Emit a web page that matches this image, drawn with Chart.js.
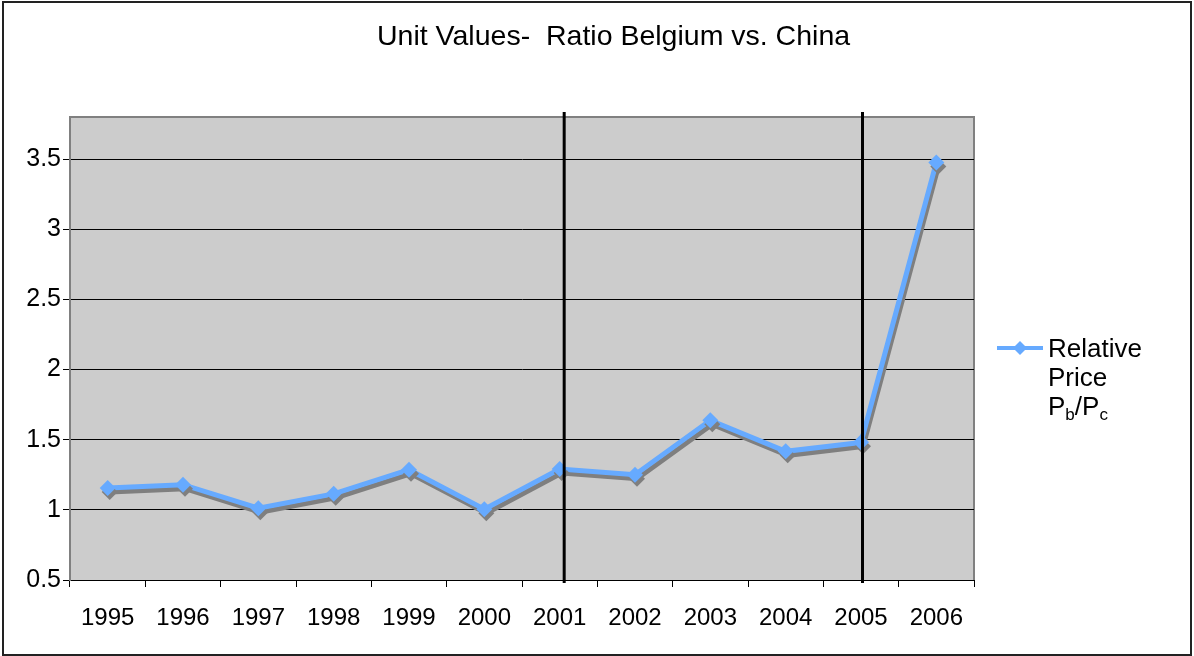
<!DOCTYPE html>
<html>
<head>
<meta charset="utf-8">
<script src="https://cdn.jsdelivr.net/npm/chart.js@4.4.0/dist/chart.umd.min.js"></script>
<style>
  html, body { margin: 0; padding: 0; background: #fff; }
  #wrap { position: relative; width: 1194px; height: 656px; font-family: "Liberation Sans", Arial, sans-serif; }
  #frame { position: absolute; left: 2px; top: 1px; width: 1186px; height: 651px; border: 2px solid #222; box-sizing: content-box; pointer-events: none; }
  canvas { position: absolute; left: 0; top: 0; }
  #title { position: absolute; left: 377px; top: 19px; font-size: 28.5px; line-height: 1.149; color: #000; white-space: nowrap; }
  #legend { position: absolute; left: 1048px; top: 334px; font-size: 26px; line-height: 29px; color: #000; }
  #legend sub { font-size: 17px; vertical-align: -5px; line-height: 0; }
</style>
</head>
<body>
<div id="wrap">
  <canvas id="c" width="1194" height="656"></canvas>
  <div id="frame"></div>
  <div id="title">Unit Values-&nbsp; Ratio Belgium vs. China</div>
  <div id="legend">Relative<br>Price<br>P<sub>b</sub>/P<sub>c</sub></div>
</div>
<script>
const years = ['1995','1996','1997','1998','1999','2000','2001','2002','2003','2004','2005','2006'];
const relativePrice = [1.155, 1.179, 1.012, 1.114, 1.286, 1.005, 1.291, 1.25, 1.638, 1.417, 1.481, 3.476];
const yTicks = [0.5, 1, 1.5, 2, 2.5, 3, 3.5];
const yMin = 0.5, yMax = 3.8;
const seriesName = 'Relative Price Pb/Pc';
const markerLines = [6.06, 10.02]; // positions (category index) of the vertical rules near 2001 and 2005

const LINE_COLOR = '#66aaff';
const SHADOW_COLOR = '#7f7f7f';

const plotBg = {
  id: 'plotBg',
  beforeDraw(chart) {
    const {ctx, chartArea: a} = chart;
    ctx.save();
    ctx.fillStyle = '#cccccc';
    ctx.fillRect(a.left, a.top, a.right - a.left, a.bottom - a.top);
    ctx.strokeStyle = '#808080';
    ctx.lineWidth = 2;
    ctx.beginPath();
    ctx.moveTo(a.left, a.bottom);
    ctx.lineTo(a.left, a.top);
    ctx.lineTo(a.right, a.top);
    ctx.lineTo(a.right, a.bottom);
    ctx.stroke();
    ctx.restore();
  }
};

const shadow = {
  id: 'shadow',
  beforeDatasetDraw(chart) {
    const ctx = chart.ctx;
    ctx.save();
    ctx.shadowColor = SHADOW_COLOR;
    ctx.shadowOffsetX = 2;
    ctx.shadowOffsetY = 4;
    ctx.shadowBlur = 0;
  },
  afterDatasetDraw(chart) {
    chart.ctx.restore();
  }
};

const vRules = {
  id: 'vRules',
  afterDatasetsDraw(chart) {
    const {ctx, chartArea: a, scales} = chart;
    ctx.save();
    ctx.strokeStyle = '#000';
    ctx.lineWidth = 3;
    markerLines.forEach(v => {
      const x = scales.x.getPixelForValue(v);
      ctx.beginPath();
      ctx.moveTo(x, a.top - 5);
      ctx.lineTo(x, a.bottom + 3);
      ctx.stroke();
    });
    ctx.restore();
  }
};

const legendSample = {
  id: 'legendSample',
  afterDraw(chart) {
    const ctx = chart.ctx;
    const y = 348, x0 = 997, x1 = 1043, xm = (x0 + x1) / 2;
    ctx.save();
    ctx.strokeStyle = LINE_COLOR;
    ctx.lineWidth = 4;
    ctx.beginPath(); ctx.moveTo(x0, y); ctx.lineTo(x1, y); ctx.stroke();
    ctx.fillStyle = LINE_COLOR;
    ctx.beginPath();
    ctx.moveTo(xm, y - 7); ctx.lineTo(xm + 7, y); ctx.lineTo(xm, y + 7); ctx.lineTo(xm - 7, y);
    ctx.closePath(); ctx.fill();
    ctx.restore();
  }
};

new Chart(document.getElementById('c'), {
  type: 'line',
  data: {
    labels: years,
    datasets: [{
      label: seriesName,
      data: relativePrice,
      borderColor: LINE_COLOR,
      backgroundColor: LINE_COLOR,
      borderWidth: 5,
      pointStyle: 'rectRot',
      pointRadius: 8,
      pointBorderWidth: 0,
      tension: 0,
      fill: false
    }]
  },
  options: {
    responsive: false,
    animation: false,
    events: [],
    layout: { padding: { left: 0, right: 220, top: 117, bottom: 0 } },
    plugins: { legend: { display: false }, title: { display: false }, tooltip: { enabled: false } },
    scales: {
      x: {
        offset: true,
        grid: { offset: true, drawOnChartArea: false, drawTicks: true, tickLength: 7, color: '#000', lineWidth: 1 },
        border: { display: true, color: '#000', width: 1 },
        ticks: { color: '#000', font: { family: 'Liberation Sans', size: 24 }, padding: 17, maxRotation: 0, autoSkip: false },
        afterFit(s) { s.height = 76; }
      },
      y: {
        min: yMin, max: yMax,
        afterBuildTicks(s) { s.ticks = yTicks.map(v => ({ value: v })); },
        grid: { color: '#000', lineWidth: 1, tickLength: 7, drawTicks: true },
        border: { display: true, color: '#808080', width: 2 },
        ticks: { color: '#000', font: { family: 'Liberation Sans', size: 25 }, padding: 2, callback: v => String(v) },
        afterFit(s) { s.width = 70; }
      }
    }
  },
  plugins: [plotBg, shadow, vRules, legendSample]
});
</script>
</body>
</html>
